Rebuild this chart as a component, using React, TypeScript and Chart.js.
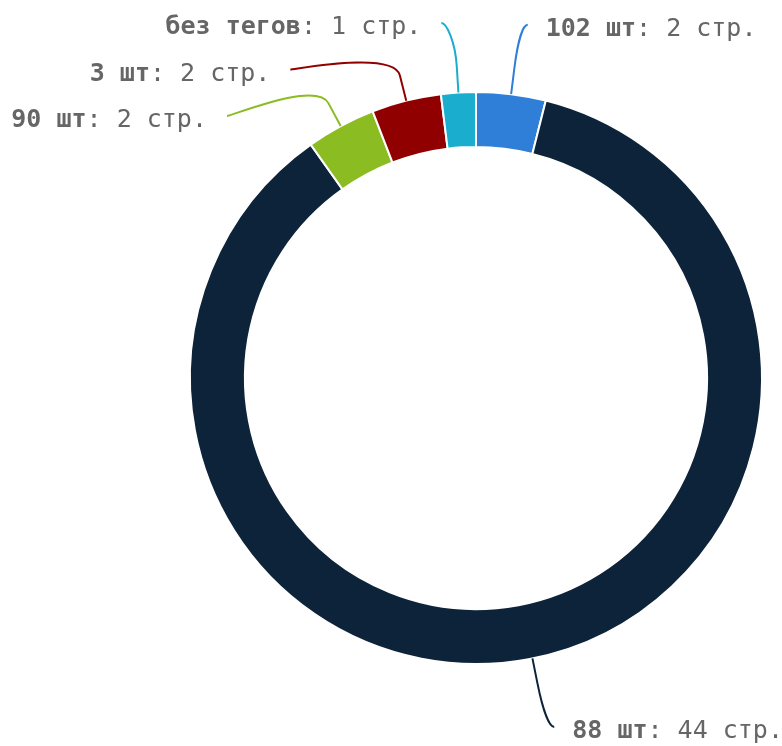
import React, { useEffect, useRef } from "react";
import { Chart, registerables } from "chart.js";

Chart.register(...registerables);

const categories = ["102 шт", "88 шт", "90 шт", "3 шт", "без тегов"];
const pageCounts = [2, 44, 2, 2, 1];
const sliceColors = ["#2f7ed8", "#0d233a", "#8bbc21", "#910000", "#1aadce"];
const unitSuffix = "стр.";

const W = 782;
const H = 746;

const labelPlugin = {
  id: "outsideLabels",
  afterDraw(chart: any) {
    const ctx = chart.ctx as CanvasRenderingContext2D;
    const meta = chart.getDatasetMeta(0);
    const arcs = meta.data;
    if (!arcs.length) return;
    const p0 = arcs[0].getProps(["x", "y", "outerRadius"], true);
    const cx = p0.x, cy = p0.y, R = p0.outerRadius;
    const dist = 70;
    const Ra = R + dist;
    const spacing = 46.5;
    const minY = 23;
    const maxY = H - 19;

    type L = { i: number; mid: number; span: number; y: number; nat: number; right: boolean; x: number };
    const items: L[] = arcs.map((a: any, i: number) => {
      const p = a.getProps(["startAngle", "endAngle"], true);
      const mid = (p.startAngle + p.endAngle) / 2;
      const nat = cy + Ra * Math.sin(mid);
      return { i, mid, span: p.endAngle - p.startAngle, y: nat, nat, right: Math.cos(mid) >= 0, x: 0 };
    });

    const distribute = (list: L[]) => {
      list.sort((a, b) => a.nat - b.nat);
      for (let k = 0; k < list.length; k++) {
        let y = Math.max(list[k].nat, minY);
        if (k > 0) y = Math.max(y, list[k - 1].y + spacing);
        list[k].y = y;
      }
      for (let k = list.length - 1; k >= 0; k--) {
        let y = Math.min(list[k].y, maxY);
        if (k < list.length - 1) y = Math.min(y, list[k + 1].y - spacing);
        list[k].y = y;
      }
    };
    distribute(items.filter((l) => l.right));
    distribute(items.filter((l) => !l.right));

    const fontPx = 25;
    const family = '"DejaVu Sans Mono", monospace';
    ctx.save();
    for (const l of items) {
      const dy = l.y - cy;
      const circX = Math.sqrt(Math.max(0, Ra * Ra - dy * dy));
      const sign = l.right ? 1 : -1;
      const ax = cx + sign * (circX + 8);
      const ay = l.y;
      // touching angle: mid angle, or direction to label for very large slices
      let ta = l.mid;
      if (l.span > Math.PI / 2) {
        ta = Math.atan2(dy, sign * circX);
      }
      const tx = cx + R * Math.cos(ta);
      const ty = cy + R * Math.sin(ta);
      const bx = cx + (R + 26) * Math.cos(ta);
      const by = cy + (R + 26) * Math.sin(ta);

      ctx.beginPath();
      ctx.moveTo(ax, ay);
      ctx.bezierCurveTo(ax - sign * 5, ay, 2 * bx - tx, 2 * by - ty, bx, by);
      ctx.lineTo(tx, ty);
      ctx.strokeStyle = sliceColors[l.i];
      ctx.lineWidth = 2;
      ctx.stroke();

      const boldText = categories[l.i];
      const normText = ": " + pageCounts[l.i] + " " + unitSuffix;
      ctx.fillStyle = "#666666";
      ctx.textBaseline = "alphabetic";
      ctx.textAlign = "left";
      ctx.font = "bold " + fontPx + "px " + family;
      const bw = ctx.measureText(boldText).width;
      ctx.font = fontPx + "px " + family;
      const nw = ctx.measureText(normText).width;
      const total = bw + nw;
      const sx = l.right ? ax + 18 : ax - 20 - total;
      const by2 = ay + 11;
      ctx.font = "bold " + fontPx + "px " + family;
      ctx.fillText(boldText, sx, by2);
      ctx.font = fontPx + "px " + family;
      ctx.fillText(normText, sx + bw, by2);
    }
    ctx.restore();
  },
};

export default function App() {
  const ref = useRef<HTMLCanvasElement | null>(null);
  useEffect(() => {
    if (!ref.current) return;
    const chart = new Chart(ref.current, {
      type: "doughnut",
      data: {
        labels: categories,
        datasets: [
          {
            data: pageCounts,
            backgroundColor: sliceColors,
            borderColor: "#ffffff",
            borderWidth: 2,
            hoverOffset: 0,
          },
        ],
      },
      options: {
        responsive: false,
        animation: false,
        devicePixelRatio: 1,
        cutout: "80.8%",
        layout: { padding: { left: 189, right: 19, top: 91, bottom: 81 } },
        plugins: {
          legend: { display: false },
          tooltip: { enabled: false },
        },
      },
      plugins: [labelPlugin],
    });
    return () => chart.destroy();
  }, []);
  return (
    <div style={{ position: "absolute", left: 0, top: 0, width: W, height: H, background: "#fff" }}>
      <canvas ref={ref} width={W} height={H} style={{ display: "block" }} />
    </div>
  );
}
